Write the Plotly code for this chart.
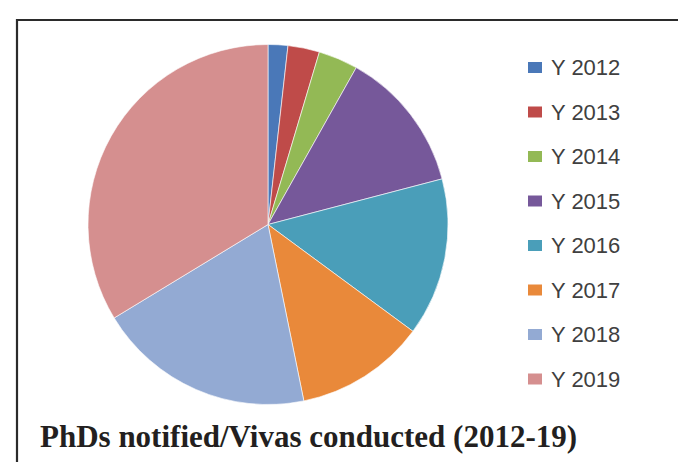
import plotly.graph_objects as go

labels = ["Y 2012", "Y 2013", "Y 2014", "Y 2015", "Y 2016", "Y 2017", "Y 2018", "Y 2019"]
values = [5, 8, 10, 36, 40, 33, 55, 95]
colors = ["#4A78B8", "#BF4B49", "#93B955", "#76589A", "#4A9EB9", "#E9893A", "#93AAD3", "#D58F8F"]
title_text = "PhDs notified/Vivas conducted (2012-19)"

W, H = 686, 462

def px(x):
    return x / W

def py(y):
    return 1 - y / H

cx, cy, r = 260, 216.5, 180

fig = go.Figure()
fig.add_trace(go.Pie(
    labels=labels, values=values, sort=False, direction="clockwise", rotation=0,
    marker=dict(colors=colors, line=dict(color="rgba(255,255,255,0.6)", width=1)),
    textinfo="none", showlegend=False,
    domain=dict(x=[px(cx - r), px(cx + r)], y=[py(cy + r), py(cy - r)]),
))

shapes = [dict(type="path", xref="paper", yref="paper",
               path=f"M {px(9)},{py(470)} L {px(9)},{py(12)} L {px(700)},{py(12)}",
               line=dict(color="#2b2b2b", width=2.2))]
annotations = []
row0, step = 59.5, 44.5
for i, (lab, col) in enumerate(zip(labels, colors)):
    yc = row0 + i * step
    shapes.append(dict(type="rect", xref="paper", yref="paper",
                       x0=px(520), x1=px(534), y0=py(yc - 5.5), y1=py(yc + 5.5),
                       fillcolor=col, line=dict(width=0)))
    annotations.append(dict(xref="paper", yref="paper", x=px(541), y=py(yc),
                            xanchor="left", yanchor="middle", showarrow=False,
                            text=lab, font=dict(family="Liberation Sans", size=22, color="#404040")))

annotations.append(dict(xref="paper", yref="paper", x=px(30), y=py(428),
                        xanchor="left", yanchor="middle", showarrow=False,
                        text=f"<b>{title_text}</b>",
                        font=dict(family="Liberation Serif", size=31, color="#231f20")))

fig.update_layout(width=W, height=H, margin=dict(l=0, r=0, t=0, b=0),
                  paper_bgcolor="white", plot_bgcolor="white",
                  shapes=shapes, annotations=annotations)

fig.write_html("out.html")
